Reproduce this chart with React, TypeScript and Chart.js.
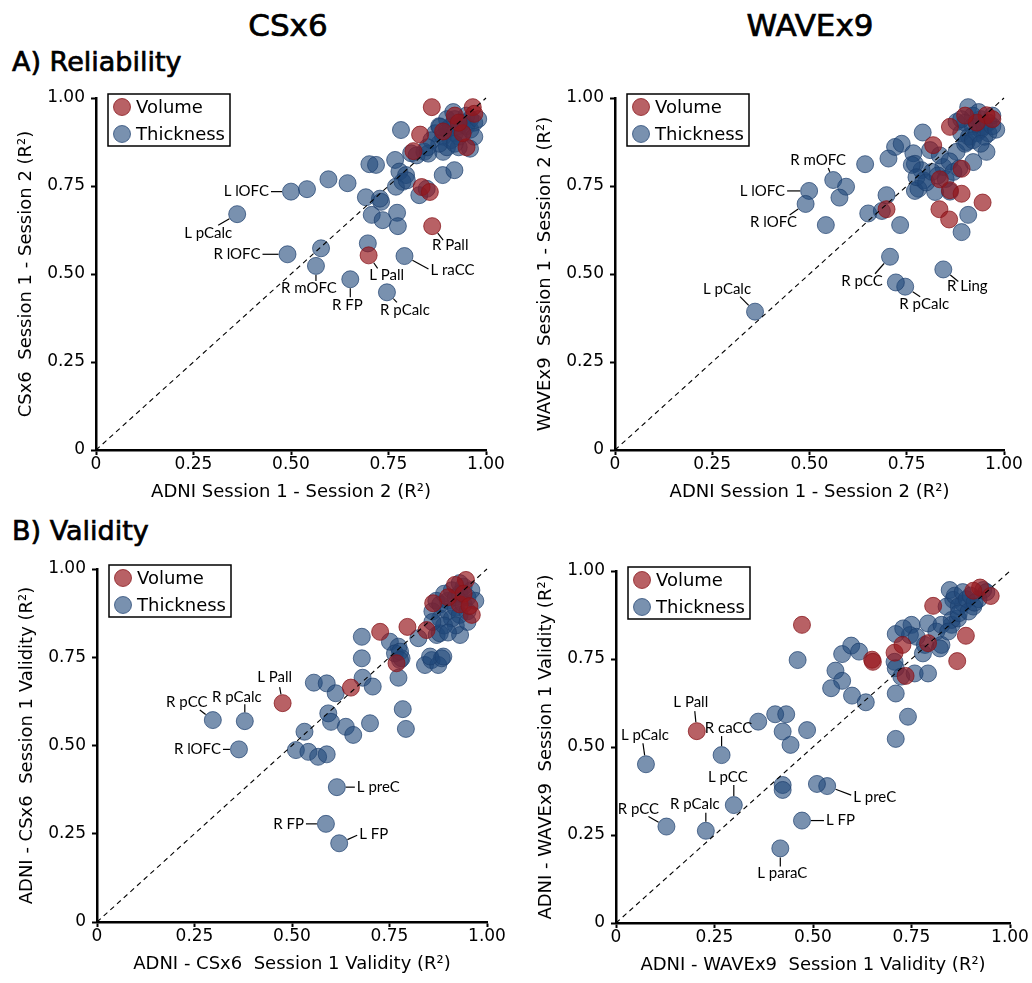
import React, { useEffect, useRef } from "react";
import { Chart, registerables } from "chart.js";

Chart.register(...registerables);

type Pt = [number, number];
type Lab = [string, number, number];
type Place = [number, number, CanvasTextAlign, number, number];

// ---------- shared axis data ----------
const tickValues = [0, 0.25, 0.5, 0.75, 1];
const tickLabels = ["0", "0.25", "0.50", "0.75", "1.00"];
const seriesNames = ["Volume", "Thickness"];
const identityLine: Pt[] = [[0, 0], [1, 1]];

// ---------- A) Reliability, CSx6 ----------
const relCsx6Volume: Pt[] = [
  [0.861, 0.974], [0.966, 0.974], [0.831, 0.896], [0.814, 0.849], [0.835, 0.747],
  [0.856, 0.733], [0.699, 0.553], [0.862, 0.636], [0.92, 0.95], [0.95, 0.86],
  [0.94, 0.9], [0.97, 0.955], [0.89, 0.905], [0.93, 0.93],
];
const relCsx6Thickness: Pt[] = [
  [0.5, 0.734], [0.362, 0.67], [0.491, 0.556], [0.564, 0.523], [0.652, 0.485],
  [0.746, 0.448], [0.791, 0.551],
  [0.577, 0.573], [0.697, 0.587], [0.541, 0.741], [0.596, 0.769], [0.645, 0.758],
  [0.692, 0.718], [0.707, 0.668], [0.731, 0.705], [0.735, 0.653], [0.772, 0.674],
  [0.774, 0.636], [0.701, 0.812], [0.718, 0.81], [0.767, 0.824], [0.782, 0.909],
  [0.778, 0.791], [0.795, 0.781], [0.786, 0.762], [0.769, 0.748], [0.829, 0.724],
  [0.848, 0.742], [0.889, 0.781], [0.919, 0.795], [0.808, 0.843], [0.842, 0.847],
  [0.797, 0.766], [0.822, 0.837], [0.852, 0.842], [0.89, 0.847], [0.959, 0.856],
  [0.728, 0.714],
  [0.87, 0.9], [0.88, 0.92], [0.89, 0.89], [0.9, 0.91], [0.9, 0.94], [0.91, 0.88],
  [0.91, 0.92], [0.92, 0.9], [0.92, 0.94], [0.93, 0.92], [0.93, 0.89], [0.94, 0.93],
  [0.94, 0.9], [0.95, 0.92], [0.95, 0.95], [0.96, 0.91], [0.96, 0.94], [0.97, 0.93],
  [0.93, 0.86], [0.9, 0.86], [0.88, 0.87], [0.86, 0.88], [0.85, 0.86], [0.92, 0.87],
  [0.97, 0.89], [0.98, 0.94], [0.916, 0.96], [0.882, 0.918],
];
const relCsx6Labels: Lab[] = [
  ["L lOFC", 0.5, 0.734], ["L pCalc", 0.362, 0.67], ["R lOFC", 0.491, 0.556],
  ["R mOFC", 0.564, 0.523], ["R FP", 0.652, 0.485], ["R pCalc", 0.746, 0.448],
  ["L Pall", 0.699, 0.553], ["L raCC", 0.791, 0.551], ["R Pall", 0.862, 0.636],
];

// ---------- A) Reliability, WAVEx9 ----------
const relWavex9Volume: Pt[] = [
  [0.861, 0.918], [0.955, 0.951], [0.818, 0.866], [0.891, 0.799], [0.835, 0.769],
  [0.861, 0.738], [0.891, 0.728], [0.945, 0.703], [0.834, 0.684], [0.859, 0.655],
  [0.698, 0.684], [0.93, 0.93], [0.97, 0.94], [0.9, 0.95],
];
const relWavex9Thickness: Pt[] = [
  [0.561, 0.767], [0.499, 0.736], [0.49, 0.699], [0.36, 0.393], [0.707, 0.549],
  [0.746, 0.464], [0.844, 0.513],
  [0.722, 0.476], [0.594, 0.748], [0.577, 0.717], [0.542, 0.639], [0.643, 0.812],
  [0.703, 0.828], [0.72, 0.861], [0.737, 0.87], [0.698, 0.724], [0.651, 0.672],
  [0.686, 0.679], [0.733, 0.639], [0.791, 0.902], [0.767, 0.843], [0.771, 0.813],
  [0.788, 0.795], [0.793, 0.766], [0.78, 0.742], [0.771, 0.736], [0.823, 0.733],
  [0.81, 0.852], [0.844, 0.804], [0.835, 0.837], [0.861, 0.734], [0.908, 0.668],
  [0.891, 0.619], [0.878, 0.847], [0.904, 0.875], [0.921, 0.818], [0.955, 0.847],
  [0.908, 0.974], [0.878, 0.932], [0.763, 0.81],
  [0.775, 0.775], [0.8, 0.76], [0.815, 0.79], [0.83, 0.78], [0.85, 0.77],
  [0.86, 0.82], [0.87, 0.79], [0.885, 0.8],
  [0.89, 0.9], [0.9, 0.93], [0.91, 0.89], [0.92, 0.92], [0.92, 0.95], [0.93, 0.9],
  [0.93, 0.93], [0.94, 0.91], [0.94, 0.94], [0.95, 0.92], [0.95, 0.89], [0.96, 0.93],
  [0.96, 0.9], [0.97, 0.92], [0.97, 0.95], [0.9, 0.87], [0.92, 0.88], [0.94, 0.87],
  [0.98, 0.91], [0.89, 0.94], [0.935, 0.96],
];
const relWavex9Labels: Lab[] = [
  ["R mOFC", 0.561, 0.767], ["L lOFC", 0.499, 0.736], ["R lOFC", 0.49, 0.699],
  ["L pCalc", 0.36, 0.393], ["R pCC", 0.707, 0.549], ["R pCalc", 0.746, 0.464],
  ["R Ling", 0.844, 0.513],
];

// ---------- B) Validity, CSx6 ----------
const valCsx6Volume: Pt[] = [
  [0.946, 0.969], [0.862, 0.903], [0.796, 0.836], [0.726, 0.822], [0.845, 0.827],
  [0.961, 0.87], [0.768, 0.733], [0.918, 0.955], [0.651, 0.664], [0.476, 0.62],
  [0.93, 0.9], [0.9, 0.92], [0.94, 0.93], [0.955, 0.895],
];
const valCsx6Thickness: Pt[] = [
  [0.297, 0.572], [0.379, 0.569], [0.364, 0.489], [0.615, 0.382], [0.587, 0.278],
  [0.621, 0.223],
  [0.679, 0.808], [0.679, 0.747], [0.681, 0.692], [0.707, 0.667], [0.556, 0.678],
  [0.589, 0.676], [0.612, 0.648], [0.593, 0.591], [0.6, 0.567], [0.532, 0.539],
  [0.638, 0.553], [0.657, 0.53], [0.7, 0.563], [0.51, 0.487], [0.542, 0.482],
  [0.567, 0.468], [0.589, 0.475], [0.784, 0.603], [0.792, 0.547], [0.773, 0.692],
  [0.751, 0.794], [0.773, 0.78], [0.764, 0.761], [0.781, 0.747], [0.824, 0.804],
  [0.841, 0.728], [0.858, 0.742], [0.875, 0.728], [0.884, 0.747], [0.871, 0.813],
  [0.931, 0.813], [0.854, 0.752], [0.888, 0.752], [0.879, 0.818], [0.777, 0.766],
  [0.777, 0.742],
  [0.86, 0.88], [0.87, 0.91], [0.88, 0.86], [0.88, 0.9], [0.89, 0.93], [0.9, 0.88],
  [0.9, 0.91], [0.91, 0.86], [0.91, 0.94], [0.92, 0.89], [0.92, 0.92], [0.93, 0.87],
  [0.93, 0.93], [0.94, 0.9], [0.94, 0.95], [0.95, 0.92], [0.95, 0.88], [0.96, 0.94],
  [0.97, 0.91], [0.89, 0.84], [0.92, 0.84], [0.95, 0.85], [0.86, 0.85], [0.9, 0.82],
  [0.93, 0.96],
];
const valCsx6Labels: Lab[] = [
  ["L Pall", 0.476, 0.62], ["R pCC", 0.297, 0.572], ["R pCalc", 0.379, 0.569],
  ["R lOFC", 0.364, 0.489], ["L preC", 0.615, 0.382], ["R FP", 0.587, 0.278],
  ["L FP", 0.621, 0.223],
];

// ---------- B) Validity, WAVEx9 ----------
const valWavex9Volume: Pt[] = [
  [0.205, 0.545], [0.472, 0.847], [0.65, 0.748], [0.652, 0.742], [0.707, 0.768],
  [0.727, 0.79], [0.735, 0.702], [0.805, 0.901], [0.792, 0.795], [0.888, 0.816],
  [0.866, 0.744], [0.924, 0.953], [0.951, 0.929], [0.907, 0.944],
];
const valWavex9Thickness: Pt[] = [
  [0.268, 0.477], [0.076, 0.451], [0.299, 0.335], [0.128, 0.274], [0.228, 0.262],
  [0.536, 0.389], [0.472, 0.291], [0.417, 0.212],
  [0.51, 0.395], [0.423, 0.392], [0.423, 0.378], [0.361, 0.572], [0.404, 0.593],
  [0.432, 0.593], [0.423, 0.544], [0.443, 0.506], [0.485, 0.548], [0.461, 0.747],
  [0.557, 0.717], [0.574, 0.688], [0.546, 0.667], [0.574, 0.764], [0.597, 0.788],
  [0.617, 0.771], [0.599, 0.646], [0.634, 0.627], [0.71, 0.821], [0.707, 0.742],
  [0.71, 0.724], [0.724, 0.7], [0.71, 0.652], [0.741, 0.586], [0.71, 0.523],
  [0.75, 0.847], [0.746, 0.818], [0.758, 0.709], [0.792, 0.709], [0.784, 0.79],
  [0.792, 0.851], [0.826, 0.79], [0.852, 0.847],
  [0.847, 0.946], [0.856, 0.918], [0.839, 0.899], [0.881, 0.908], [0.907, 0.899],
  [0.932, 0.946], [0.852, 0.861], [0.868, 0.865], [0.813, 0.828], [0.826, 0.847],
  [0.843, 0.828], [0.729, 0.837], [0.763, 0.813], [0.779, 0.766], [0.822, 0.78],
  [0.86, 0.93], [0.87, 0.9], [0.88, 0.94], [0.89, 0.92], [0.9, 0.93], [0.92, 0.92],
  [0.87, 0.88], [0.895, 0.885], [0.91, 0.91], [0.94, 0.94],
];
const valWavex9Labels: Lab[] = [
  ["L Pall", 0.205, 0.545], ["R caCC", 0.268, 0.477], ["L pCalc", 0.076, 0.451],
  ["L pCC", 0.299, 0.335], ["R pCC", 0.128, 0.274], ["R pCalc", 0.228, 0.262],
  ["L preC", 0.536, 0.389], ["L FP", 0.472, 0.291], ["L paraC", 0.417, 0.212],
];

// ---------- label placement (pixel offsets from point: text dx, dy, align, leader end lx, ly) ----------
const relCsx6Place: Place[] = [
  [-22, 0, "right", -20, 0], [-29, 19, "center", -19, 11], [-27, 0, "right", -25, 0],
  [-7, 22, "center", 0, 15], [-3, 26, "center", 0, 18], [18, 18, "center", 10, 10],
  [18, 20, "center", 9, 13], [26, 14, "left", 24, 13], [18, 19, "center", 11, 14],
];
const relWavex9Place: Place[] = [
  [-15, -20, "center", -5, -12], [-24, 0, "right", -22, 0], [-32, 18, "center", -16, 11],
  [-28, -23, "center", -15, -15], [-28, 24, "center", -15, 17], [19, 17, "center", 15, 10],
  [24, 17, "center", 15, 12],
];
const valCsx6Place: Place[] = [
  [-8, -26, "center", -3, -16], [-26, -18, "center", -13, -10], [-8, -24, "center", 0, -17],
  [-18, 0, "right", -16, 0], [20, 0, "left", 18, 0], [-22, 0, "right", -20, 0],
  [20, -9, "left", 18, -8],
];
const valWavex9Place: Place[] = [
  [-6, -29, "center", -2, -20], [7, -27, "center", 0, -19], [-1, -29, "center", -3, -21],
  [-6, -28, "center", 0, -20], [-28, -17, "center", -18, -10], [-11, -27, "center", 0, -18],
  [26, 11, "left", 24, 9], [24, 0, "left", 22, 0], [2, 25, "center", 0, 18],
];

// ---------- styles ----------
const FONT = "DejaVu Sans";
const LABEL_FONT = "15px Lato";
const VOL_FILL = "rgba(150, 22, 28, 0.68)";
const VOL_EDGE = "rgba(135, 20, 25, 0.75)";
const THK_FILL = "rgba(32, 72, 122, 0.6)";
const THK_EDGE = "rgba(28, 62, 110, 0.7)";
const R = 8.5;

type Geom = { left: number; top: number; width: number; height: number; aL: number; aR: number; aT: number; aB: number };
type PanelCfg = {
  volume: Pt[]; thickness: Pt[]; labels: Lab[]; place: Place[];
  xTitle: string; yTitle: string; geom: Geom;
};

const panels: PanelCfg[] = [
  {
    volume: relCsx6Volume, thickness: relCsx6Thickness, labels: relCsx6Labels, place: relCsx6Place,
    xTitle: "ADNI Session 1 - Session 2 (R²)", yTitle: "CSx6  Session 1 - Session 2 (R²)",
    geom: { left: 0, top: 80, width: 516, height: 430, aL: 96, aR: 486, aT: 98, aB: 450 },
  },
  {
    volume: relWavex9Volume, thickness: relWavex9Thickness, labels: relWavex9Labels, place: relWavex9Place,
    xTitle: "ADNI Session 1 - Session 2 (R²)", yTitle: "WAVEx9  Session 1 - Session 2 (R²)",
    geom: { left: 516, top: 80, width: 516, height: 430, aL: 615, aR: 1004, aT: 98, aB: 450 },
  },
  {
    volume: valCsx6Volume, thickness: valCsx6Thickness, labels: valCsx6Labels, place: valCsx6Place,
    xTitle: "ADNI - CSx6  Session 1 Validity (R²)", yTitle: "ADNI - CSx6  Session 1 Validity (R²)",
    geom: { left: 0, top: 550, width: 516, height: 433, aL: 97, aR: 487, aT: 569, aB: 922 },
  },
  {
    volume: valWavex9Volume, thickness: valWavex9Thickness, labels: valWavex9Labels, place: valWavex9Place,
    xTitle: "ADNI - WAVEx9  Session 1 Validity (R²)", yTitle: "ADNI - WAVEx9  Session 1 Validity (R²)",
    geom: { left: 516, top: 550, width: 516, height: 433, aL: 616, aR: 1010, aT: 571, aB: 923 },
  },
];

const toXY = (arr: Pt[]) => arr.map(([x, y]) => ({ x, y }));

function Panel({ cfg }: { cfg: PanelCfg }) {
  const ref = useRef<HTMLCanvasElement>(null);
  const g = cfg.geom;
  useEffect(() => {
    const canvas = ref.current;
    if (!canvas) return;
    const relL = g.aL - g.left;
    const relR = g.aR - g.left;
    const relT = g.aT - g.top;
    const relB = g.aB - g.top;

    const overlay = {
      id: "overlay",
      afterDatasetsDraw(chart: any) {
        const ctx = chart.ctx as CanvasRenderingContext2D;
        const xs = chart.scales.x;
        const ys = chart.scales.y;
        ctx.save();
        ctx.font = LABEL_FONT;
        ctx.fillStyle = "#000";
        ctx.strokeStyle = "#000";
        ctx.lineWidth = 1.2;
        ctx.textBaseline = "middle";
        cfg.labels.forEach((lab, i) => {
          const [name, vx, vy] = lab;
          const [dx, dy, align, lx, ly] = cfg.place[i];
          const px = xs.getPixelForValue(vx);
          const py = ys.getPixelForValue(vy);
          const len = Math.hypot(lx, ly);
          if (len > R + 1) {
            const sx = px + (lx / len) * (R + 0.5);
            const sy = py + (ly / len) * (R + 0.5);
            ctx.beginPath();
            ctx.moveTo(sx, sy);
            ctx.lineTo(px + lx, py + ly);
            ctx.stroke();
          }
          ctx.textAlign = align;
          ctx.fillText(name, px + dx, py + dy);
        });
        ctx.restore();
      },
      afterDraw(chart: any) {
        const ctx = chart.ctx as CanvasRenderingContext2D;
        const a = chart.chartArea;
        ctx.save();
        // legend box
        const bx = a.left + 12;
        const by = a.top - 4;
        ctx.lineWidth = 1.5;
        ctx.strokeStyle = "#000";
        ctx.strokeRect(bx, by, 122, 52);
        const fills = [VOL_FILL, THK_FILL];
        const edges = [VOL_EDGE, THK_EDGE];
        ctx.font = `18px ${FONT}`;
        ctx.textBaseline = "middle";
        ctx.textAlign = "left";
        seriesNames.forEach((nm, i) => {
          const cy = by + 13 + i * 27;
          ctx.beginPath();
          ctx.arc(bx + 14, cy, R, 0, Math.PI * 2);
          ctx.fillStyle = fills[i];
          ctx.fill();
          ctx.strokeStyle = edges[i];
          ctx.lineWidth = 1;
          ctx.stroke();
          ctx.fillStyle = "#000";
          ctx.fillText(nm, bx + 28, cy + 1);
        });
        // axis titles
        ctx.fillStyle = "#000";
        ctx.font = `18px ${FONT}`;
        ctx.textAlign = "center";
        ctx.textBaseline = "middle";
        ctx.fillText(cfg.xTitle, (a.left + a.right) / 2, a.bottom + 42);
        ctx.translate(a.left - 70, (a.top + a.bottom) / 2);
        ctx.rotate(-Math.PI / 2);
        ctx.fillText(cfg.yTitle, 0, 0);
        ctx.restore();
      },
    };

    const axisCommon = (isX: boolean) => ({
      type: "linear" as const,
      min: 0,
      max: 1,
      afterBuildTicks: (s: any) => {
        s.ticks = tickValues.map((v) => ({ value: v }));
      },
      afterFit: (s: any) => {
        if (isX) s.height = g.height - relB;
        else s.width = relL;
      },
      ticks: {
        callback: (v: any) => tickLabels[tickValues.indexOf(Number(v))] ?? "",
        font: { family: FONT, size: 17 },
        color: "#000",
        padding: isX ? -1 : 6,
        maxRotation: 0,
        autoSkip: false,
      },
      grid: {
        drawOnChartArea: false,
        drawTicks: true,
        tickLength: 5,
        tickColor: "#000",
        tickWidth: 2,
      },
      border: { display: true, color: "#000", width: 2.5 },
    });

    const chart = new Chart(canvas, {
      type: "scatter",
      data: {
        datasets: [
          {
            data: toXY(identityLine),
            showLine: true,
            pointRadius: 0,
            borderColor: "#000",
            borderWidth: 1.1,
            borderDash: [5, 4],
            clip: false,
          } as any,
          {
            label: seriesNames[0],
            data: toXY(cfg.volume),
            backgroundColor: VOL_FILL,
            borderColor: VOL_EDGE,
            borderWidth: 1,
            pointRadius: R,
            clip: false,
          } as any,
          {
            label: seriesNames[1],
            data: toXY(cfg.thickness),
            backgroundColor: THK_FILL,
            borderColor: THK_EDGE,
            borderWidth: 1,
            pointRadius: R,
            clip: false,
          } as any,
        ],
      },
      options: {
        responsive: false,
        animation: false,
        devicePixelRatio: 1,
        events: [],
        layout: { padding: { left: 0, top: relT, right: g.width - relR, bottom: 0 } },
        plugins: {
          legend: { display: false },
          tooltip: { enabled: false },
          title: { display: false },
        },
        scales: {
          x: axisCommon(true) as any,
          y: axisCommon(false) as any,
        },
      },
      plugins: [overlay],
    });
    return () => chart.destroy();
  }, []);
  return (
    <canvas
      ref={ref}
      width={g.width}
      height={g.height}
      style={{ position: "absolute", left: g.left, top: g.top, width: g.width, height: g.height }}
    />
  );
}

const headStyle = (x: number, y: number, size: number, center: boolean): React.CSSProperties => ({
  position: "absolute",
  left: x,
  top: y,
  transform: center ? "translate(-50%, -50%)" : "translate(0, -50%)",
  fontFamily: FONT,
  fontSize: size,
  lineHeight: 1,
  whiteSpace: "nowrap",
  color: "#000",
  WebkitTextStroke: "0.7px #000",
});

export default function App() {
  return (
    <div style={{ position: "absolute", left: 0, top: 0, width: 1032, height: 983, background: "#fff", overflow: "hidden" }}>
      <div style={headStyle(288, 25, 31, true)}>CSx6</div>
      <div style={headStyle(810, 25, 31, true)}>WAVEx9</div>
      <div style={headStyle(12, 61, 27, false)}>A) Reliability</div>
      <div style={headStyle(12, 530, 27, false)}>B) Validity</div>
      {panels.map((p, i) => (
        <Panel key={i} cfg={p} />
      ))}
    </div>
  );
}
